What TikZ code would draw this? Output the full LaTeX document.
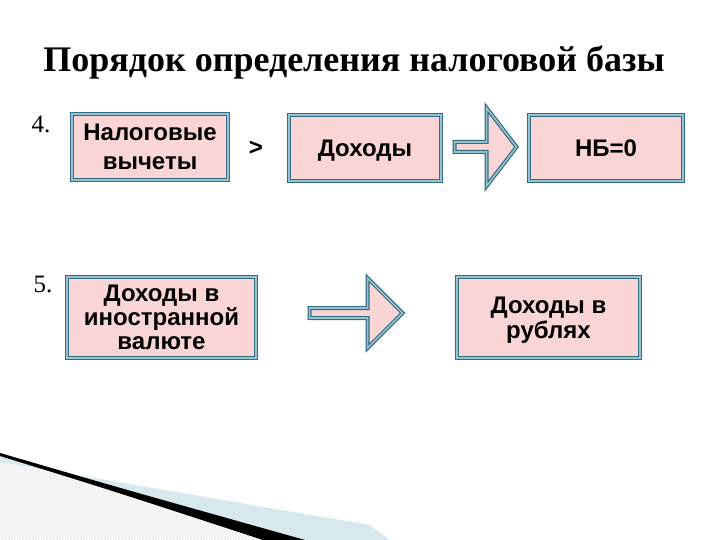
\documentclass[tikz,border=0pt]{standalone}
\usepackage{fontspec}
\setmainfont{Liberation Serif}
\setsansfont{Liberation Sans}
\usetikzlibrary{patterns}

\definecolor{boxedge}{HTML}{2F6F84}
\definecolor{boxmid}{HTML}{9CC0CF}
\definecolor{boxfill}{HTML}{F9D5D5}
\definecolor{wedgeblue}{HTML}{D8E8EF}

\begin{document}
\begin{tikzpicture}[x=1pt, y=-1pt,
  stepbox/.style={draw=boxedge, line width=1.2pt, double=boxmid, double distance=1.6pt, fill=boxfill, inner sep=0pt, align=center},
  boxfont/.style={font=\sffamily\bfseries\fontsize{24}{#1}\selectfont},
  blockarrow/.style={draw=boxedge, line width=1.2pt, double=boxmid, double distance=1.6pt, fill=boxfill, line join=miter},
  numlabel/.style={font=\fontsize{25}{28}\selectfont, inner sep=0pt}]

\useasboundingbox (0,0) rectangle (720,540);

% bottom-left decoration
\fill[pattern=north west lines, pattern color=gray!25] (0,456) -- (263,540) -- (0,540) -- cycle;
\fill[wedgeblue] (0,462) -- (370,525) -- (390,540) -- (300,540) -- (0,453) -- cycle;
\fill[black] (0,453) .. controls (120,488) .. (305,540) -- (263,540) .. controls (110,490) .. (0,456) -- cycle;

% title
\node[font=\bfseries\fontsize{36}{40}\selectfont] (title) at (354,62) {Порядок определения налоговой базы};

% row 4
\node[numlabel] (num a) at (41,124) {4.};
\node[stepbox, boxfont=29, text depth=0pt, minimum width=156, minimum height=66] (box a) at (150,147) {Налоговые\\вычеты};
\node[boxfont=28] (gt) at (256,148) {>};
\node[stepbox, boxfont=28, text depth=0pt, minimum width=152, minimum height=66] (box b) at (365,148) {Доходы};
\node[stepbox, boxfont=28, minimum width=154, minimum height=66] (box c) at (606,148) {НБ=0};

\draw[blockarrow] ([xshift=13pt, yshift=6pt] box b.east) -- ++(32,0) -- ++(0,-34) -- ++(30,39) -- ++(-30,39) -- ++(0,-34) -- ++(-32,0) -- cycle;

% row 5
\node[numlabel] (num b) at (43,284) {5.};
\node[stepbox, boxfont=24, minimum width=189, minimum height=81] (box d) at (161.5,317.5) {Доходы в\\иностранной\\валюте};
\node[stepbox, boxfont=25, text depth=0pt, minimum width=183, minimum height=81] (box e) at (548.5,317.5) {Доходы в\\рублях};

\draw[blockarrow] ([xshift=53pt, yshift=9.5pt] box d.east) -- ++(58,0) -- ++(0,-30) -- ++(35,35) -- ++(-35,35) -- ++(0,-30) -- ++(-58,0) -- cycle;

\end{tikzpicture}
\end{document}
